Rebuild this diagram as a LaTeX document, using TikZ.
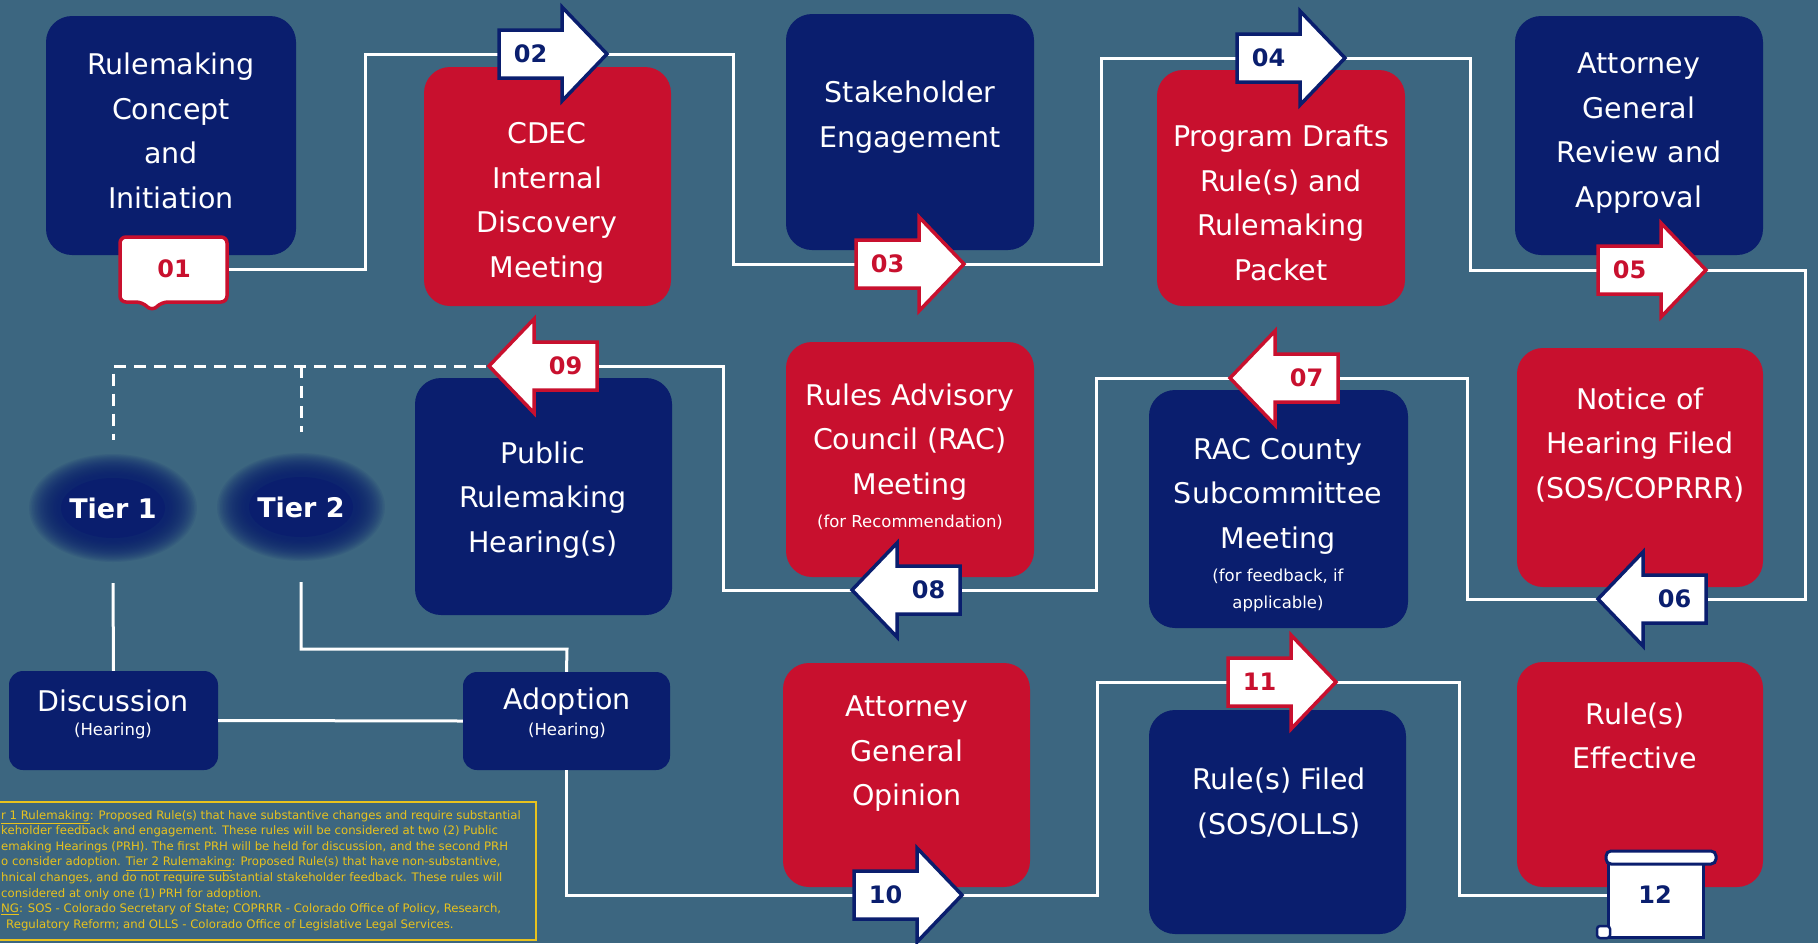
\documentclass[tikz,border=0pt]{standalone}
\usepackage{fontspec}
\setmainfont{DejaVu Sans}
\definecolor{bgc}{HTML}{3C6680}
\definecolor{navyc}{HTML}{0A1E6E}
\definecolor{redc}{HTML}{C8102E}
\definecolor{notec}{HTML}{E8C21E}
\pgfdeclarelayer{boxes}
\pgfdeclarelayer{lines}
\pgfsetlayers{boxes,lines,main}
\tikzset{
  card/.style={rounded corners=26pt, inner sep=0pt, draw=none},
  navycard/.style={card, fill=navyc},
  redcard/.style={card, fill=redc},
  smallcard/.style={rounded corners=14pt, inner sep=0pt, fill=navyc},
  boxtext/.style={text=white, align=center, font=\fontsize{28.5}{44.5}\selectfont, inner sep=0pt},
  subtext/.style={text=white, align=center, font=\fontsize{16.5}{27}\selectfont, inner sep=0pt},
  numlbl/.style={font=\bfseries\fontsize{24}{24}\selectfont, inner sep=0pt},
  arrowshape/.style={fill=white, line width=3.5pt, line join=miter},
  conn/.style={draw=white, line width=3pt},
  dashconn/.style={conn, dash pattern=on 12pt off 8pt},
  tiertext/.style={text=white, font=\bfseries\fontsize{27}{27}\selectfont, inner sep=0pt},
  notetext/.style={text=notec, align=left, font=\fontsize{11.7}{15.6}\selectfont, inner sep=0pt, anchor=north west},
  blurlayer/.style={fill=navyc, fill opacity=0.09},
}
% right arrow: name, tail x, y, colour, label
\newcommand{\RArrow}[5]{%
  \begin{scope}[shift={(#2,#3)}]
    \draw[arrowshape, draw=#4] (0,-24) -- (63,-24) -- (63,-47) -- (108,0) -- (63,47) -- (63,24) -- (0,24) -- cycle;
    \node[numlbl, text=#4] (#1) at (31.5,0) {#5};
  \end{scope}}
% left arrow: name, tip x, y, colour, label
\newcommand{\LArrow}[5]{%
  \begin{scope}[shift={(#2,#3)}]
    \draw[arrowshape, draw=#4] (0,0) -- (45,-47) -- (45,-24) -- (108,-24) -- (108,24) -- (45,24) -- (45,47) -- cycle;
    \node[numlbl, text=#4] (#1) at (76.5,0) {#5};
  \end{scope}}
% soft blob
\newcommand{\SoftBlob}[2]{%
  \foreach \k in {0,...,19} {
    \pgfmathsetmacro{\rxx}{84-1.5*\k}
    \pgfmathsetmacro{\ryy}{54-1.1*\k}
    \fill[blurlayer] (#1,#2) ellipse [x radius=\rxx pt, y radius=\ryy pt];
  }
  \fill[navyc] (#1,#2) ellipse [x radius=52pt, y radius=30pt];}
\begin{document}
\begin{tikzpicture}[x=1pt,y=-1pt]
\useasboundingbox (0,0) rectangle (1818,943);
\begin{pgfonlayer}{boxes}
  \fill[bgc] (0,0) rectangle (1818,943);
  % cards
  \node[navycard, minimum width=250pt, minimum height=239pt] (b1) at (171,135.5) {};
  \node[redcard,  minimum width=247pt, minimum height=239pt] (b2) at (547.5,186.5) {};
  \node[navycard, minimum width=248pt, minimum height=236pt] (b3) at (910,132) {};
  \node[redcard,  minimum width=248pt, minimum height=236pt] (b4) at (1281,188) {};
  \node[navycard, minimum width=248pt, minimum height=239pt] (b5) at (1639,135.5) {};
  \node[redcard,  minimum width=246pt, minimum height=239pt] (b6) at (1640,467.5) {};
  \node[navycard, minimum width=259pt, minimum height=238pt] (b7) at (1278.5,509) {};
  \node[redcard,  minimum width=248pt, minimum height=235pt] (b8) at (910,459.5) {};
  \node[navycard, minimum width=257pt, minimum height=237pt] (b9) at (543.5,496.5) {};
  \node[redcard,  minimum width=247pt, minimum height=224pt] (b10) at (906.5,775) {};
  \node[navycard, minimum width=257pt, minimum height=224pt] (b11) at (1277.5,822) {};
  \node[redcard,  minimum width=246pt, minimum height=225pt] (b12) at (1640,774.5) {};
  \node[smallcard, minimum width=209pt, minimum height=99pt] (disc) at (113.5,720.5) {};
  \node[smallcard, minimum width=207pt, minimum height=98pt] (adop) at (566.5,721) {};
  % tier blobs
  \SoftBlob{113}{508}
  \SoftBlob{301}{507}
  % note frame
  \draw[notec, line width=2pt] (0,802) -- (536,802) -- (536,940) -- (0,940);
\end{pgfonlayer}

% card texts
\node[boxtext] (t1) at (171,131) {Rulemaking\\Concept\\and\\Initiation};
\node[boxtext] (t2) at (547,203) {CDEC\\Internal\\Discovery\\Meeting};
\node[boxtext] (t3) at (910,117) {Stakeholder\\Engagement};
\node[boxtext] (t4) at (1281,203) {Program Drafts\\Rule(s) and\\Rulemaking\\Packet};
\node[boxtext] (t5) at (1639,133) {Attorney\\General\\Review and\\Approval};
\node[boxtext] (t6) at (1640,445) {Notice of\\Hearing Filed\\(SOS/COPRRR)};
\node[boxtext] (t7) at (1278,496) {RAC County\\Subcommittee\\Meeting};
\node[subtext] (s7) at (1278,590) {(for feedback, if\\applicable)};
\node[boxtext] (t8) at (910,442) {Rules Advisory\\Council (RAC)\\Meeting};
\node[subtext] (s8) at (910,522) {(for Recommendation)};
\node[boxtext] (t9) at (543,500) {Public\\Rulemaking\\Hearing(s)};
\node[boxtext] (t10) at (907,754) {Attorney\\General\\Opinion};
\node[boxtext] (t11) at (1279,803) {Rule(s) Filed\\(SOS/OLLS)};
\node[boxtext] (t12t) at (1635,736) {Rule(s)\\Effective};
\node[boxtext] (tdisc) at (113,701) {Discussion};
\node[subtext] (sdisc) at (113,731) {(Hearing)};
\node[boxtext] (tadop) at (567,702) {Adoption};
\node[subtext] (sadop) at (567,731) {(Hearing)};

\node[tiertext] (tier1) at (113,508) {Tier 1};
\node[tiertext] (tier2) at (301,507) {Tier 2};

% tag 01
\draw[draw=redc, fill=white, line width=3.5pt, rounded corners=6pt] (120,237) -- (227,237) -- (227,302) -- (162,302) -- (152,311) -- (142,302) -- (120,302) -- cycle;
\node[numlbl, text=redc] (t01) at (174,269) {01};

% step arrows
\RArrow{a02}{499}{54}{navyc}{02}
\RArrow{a03}{856}{264}{redc}{03}
\RArrow{a04}{1237}{58}{navyc}{04}
\RArrow{a05}{1598}{270}{redc}{05}
\LArrow{a06}{1598}{599}{navyc}{06}
\LArrow{a07}{1230}{378}{redc}{07}
\LArrow{a08}{852}{590}{navyc}{08}
\LArrow{a09}{489}{366}{redc}{09}
\RArrow{a10}{854}{895}{navyc}{10}
\RArrow{a11}{1228}{682}{redc}{11}

% tag 12 (scroll)
\draw[draw=navyc, fill=white, line width=3pt] (1608,862) rectangle (1703,937);
\draw[draw=navyc, fill=white, line width=3pt, rounded corners=5pt] (1606,851) rectangle (1716,864);
\draw[draw=navyc, fill=white, line width=2.5pt, rounded corners=3pt] (1597,926) rectangle (1610,938);
\node[numlbl, text=navyc] (t12) at (1655,895) {12};

% note
\node[notetext] (note) at (1,810) {%
\underline{r 1 Rulemaking}: Proposed Rule(s) that have substantive changes and require substantial\\
keholder feedback and engagement. These rules will be considered at two (2) Public\\
emaking Hearings (PRH). The first PRH will be held for discussion, and the second PRH\\
o consider adoption. \underline{Tier 2 Rulemaking}: Proposed Rule(s) that have non-substantive,\\
hnical changes, and do not require substantial stakeholder feedback. These rules will\\
considered at only one (1) PRH for adoption.\\
\underline{NG}: SOS - Colorado Secretary of State; COPRRR - Colorado Office of Policy, Research,\\
\hspace*{5pt}Regulatory Reform; and OLLS - Colorado Office of Legislative Legal Services.};

% connectors
\begin{pgfonlayer}{lines}
  \draw[conn] (t01.center) -| (365,160) |- (a02.center) -| (733,160) |- (a03.center)
     -| (1101,160) |- (a04.center) -| (1470,160) |- (a05.center) -| (1805,430) |- (a06.center)
     -| (1467,480) |- (a07.center) -| (1096,480) |- (a08.center) -| (723,480) |- (a09.center);
  \coordinate (dj) at (301,366);
  \draw[dashconn] (a09.center) -| (113,440);
  \draw[dashconn] (dj) -- (301,432);
  \draw[conn] ([yshift=-75pt]tier1.center) -- (disc.north);
  \draw[conn] ([yshift=-75pt]tier2.center) |- (567,649) -- (adop.north);
  \draw[conn] (disc.east) -- (adop.west);
  \draw[conn] (adop.south) |- (a10.center) -| (1097,790) |- (a11.center) -| (1459,790) |- (t12.center);
\end{pgfonlayer}
\end{tikzpicture}
\end{document}
